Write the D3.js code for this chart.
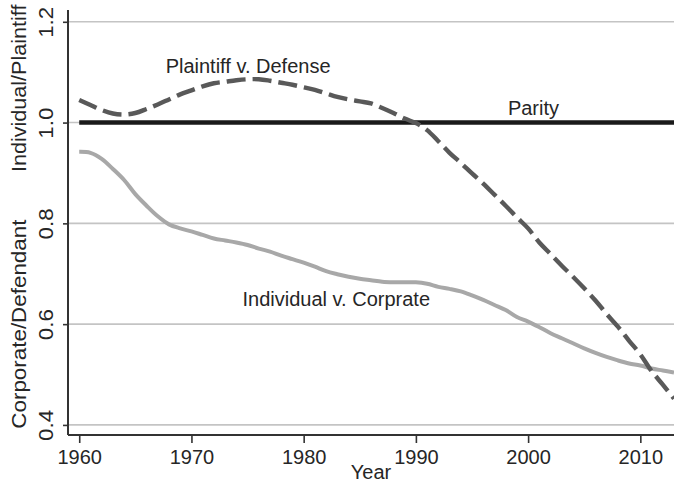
<!DOCTYPE html>
<html>
<head>
<meta charset="utf-8">
<script src="https://cdn.jsdelivr.net/npm/d3@7/dist/d3.min.js"></script>
<style>
  html, body { margin: 0; padding: 0; background: #fff; }
  svg { display: block; }
  text { font-family: "Liberation Sans", Arial, Helvetica, sans-serif; fill: #262626; }
</style>
</head>
<body>
<script>
// ---- Data ----
const years = d3.range(1960, 2014);
const plaintiffVsDefense = [
  1.045, 1.035, 1.025, 1.018, 1.016, 1.019, 1.027, 1.036, 1.046, 1.056,
  1.064, 1.072, 1.078, 1.081, 1.084, 1.086, 1.086, 1.083, 1.079, 1.075,
  1.070, 1.065, 1.058, 1.051, 1.046, 1.042, 1.038, 1.029, 1.019, 1.008,
  0.999, 0.985, 0.963, 0.940, 0.920, 0.899, 0.879, 0.857, 0.835, 0.812,
  0.790, 0.762, 0.739, 0.716, 0.694, 0.671, 0.647, 0.620, 0.595, 0.567,
  0.540, 0.507, 0.480, 0.452
];
const individualVsCorporate = [
  0.942, 0.940, 0.928, 0.908, 0.886, 0.858, 0.835, 0.814, 0.798, 0.790,
  0.784, 0.777, 0.770, 0.766, 0.762, 0.757, 0.750, 0.744, 0.736, 0.729,
  0.722, 0.714, 0.705, 0.699, 0.694, 0.690, 0.687, 0.684, 0.683, 0.683,
  0.683, 0.680, 0.674, 0.670, 0.665, 0.657, 0.648, 0.638, 0.628, 0.614,
  0.605, 0.594, 0.582, 0.572, 0.562, 0.552, 0.543, 0.535, 0.528, 0.522,
  0.518, 0.512, 0.508, 0.504
];
const parityYears = [1960, 2013];
const parityValue = 1.0;
const xTicks = [1960, 1970, 1980, 1990, 2000, 2010];
const yTicks = [0.4, 0.6, 0.8, 1.0, 1.2];
const yTickLabels = ["0.4", "0.6", "0.8", "1.0", "1.2"];
const annotations = [
  { text: "Plaintiff v. Defense", year: 1967.7, value: 1.098 },
  { text: "Parity", year: 1998.2, value: 1.015 },
  { text: "Individual v. Corprate", year: 1974.55, value: 0.636 }
];
const yTitleTop = "Individual/Plaintiff";
const yTitleBottom = "Corporate/Defendant";
const xTitle = "Year";

// ---- Layout ----
const W = 674, H = 485;
const svg = d3.select("body").append("svg").attr("width", W).attr("height", H);

const x = d3.scaleLinear().domain([1959, 2013]).range([68, 674]);
const y = d3.scaleLinear().domain([0.38, 1.2234]).range([435, 10]);

// gridlines
svg.append("g").selectAll("line").data(yTicks).join("line")
  .attr("x1", x(1959)).attr("x2", x(2013))
  .attr("y1", d => y(d)).attr("y2", d => y(d))
  .attr("stroke", "#c4c4c4").attr("stroke-width", 1.6);

// axes
const yAxis = d3.axisLeft(y).tickValues(yTicks).tickSize(5).tickFormat((d, i) => yTickLabels[i]);
const gy = svg.append("g").attr("transform", `translate(${x(1959)},0)`).call(yAxis);
gy.select(".domain").attr("stroke", "#333").attr("stroke-width", 2).attr("d", `M0,${y.range()[1]}V${y.range()[0]}`);
gy.selectAll(".tick line").attr("stroke", "#333").attr("stroke-width", 1.6);
gy.selectAll(".tick text")
  .attr("font-size", 20).attr("x", null).attr("dy", null)
  .attr("text-anchor", "middle")
  .attr("transform", "translate(-15,0) rotate(-90) scale(1.12,1)")
  .attr("fill", "#262626");

const xAxis = d3.axisBottom(x).tickValues(xTicks).tickSize(8).tickFormat(d3.format("d"));
const gx = svg.append("g").attr("transform", `translate(0,${y(0.38)})`).call(xAxis);
gx.select(".domain").attr("stroke", "#333").attr("stroke-width", 2).attr("d", `M${x(1959)},0H${x(2013)}`);
gx.selectAll(".tick line").attr("stroke", "#333").attr("stroke-width", 1.6);
gx.selectAll(".tick text").attr("font-size", 20).attr("y", 29).attr("dy", null).attr("fill", "#262626");

// axis titles
svg.append("text").text(xTitle).attr("x", (x(1959) + x(2013)) / 2).attr("y", 479)
  .attr("text-anchor", "middle").attr("font-size", 20);
svg.append("text").text(yTitleTop)
  .attr("transform", `translate(26,${y(1.068)}) rotate(-90) scale(1.08,1)`)
  .attr("text-anchor", "middle").attr("font-size", 20);
svg.append("text").text(yTitleBottom)
  .attr("transform", `translate(26,${y(0.60)}) rotate(-90) scale(1.12,1)`)
  .attr("text-anchor", "middle").attr("font-size", 20);

// lines
const line = d3.line().x(d => x(d[0])).y(d => y(d[1])).curve(d3.curveCatmullRom.alpha(0.5));

svg.append("path")
  .datum(parityYears.map(yr => [yr, parityValue]))
  .attr("d", d3.line().x(d => x(d[0])).y(d => y(d[1])))
  .attr("fill", "none").attr("stroke", "#1a1a1a").attr("stroke-width", 4.5);

svg.append("path")
  .datum(years.map((yr, i) => [yr, individualVsCorporate[i]]))
  .attr("d", line)
  .attr("fill", "none").attr("stroke", "#a8a8a8").attr("stroke-width", 4);

svg.append("path")
  .datum(years.map((yr, i) => [yr, plaintiffVsDefense[i]]))
  .attr("d", line)
  .attr("fill", "none").attr("stroke", "#595959").attr("stroke-width", 4.4)
  .attr("stroke-dasharray", "19,7");

// annotations
svg.append("g").selectAll("text").data(annotations).join("text")
  .attr("x", d => x(d.year)).attr("y", d => y(d.value))
  .attr("font-size", 20).text(d => d.text);
</script>
</body>
</html>
